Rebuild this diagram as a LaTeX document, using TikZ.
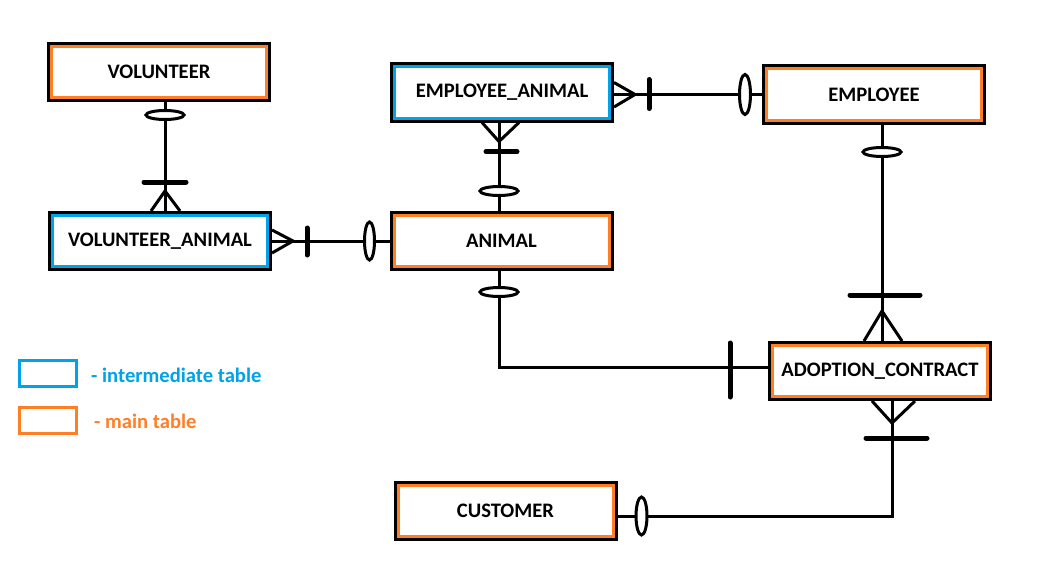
\documentclass[tikz,border=0pt]{standalone}
\usepackage{fontspec}
\setmainfont{Carlito}
\usetikzlibrary{calc}
\definecolor{pblue}{RGB}{0,162,232}
\definecolor{porange}{RGB}{255,127,39}
\tikzset{
  tbl/.style={rectangle, fill=white, draw=#1, line width=3pt,
    preaction={draw=black, line width=9pt},
    minimum width=215pt, minimum height=51pt, inner sep=0pt, outer sep=4.5pt,
    font=\fontsize{20.6}{24}\selectfont\bfseries, text=black},
  conn/.style={draw=black, line width=3pt},
  bar/.style={draw=black, line width=5pt, line cap=round},
  zero/.style={draw=black, line width=3pt, fill=white},
  legbox/.style={rectangle, draw=#1, line width=3pt, minimum width=57pt, minimum height=26pt, inner sep=0pt},
  legtxt/.style={anchor=west, inner sep=0pt, text=#1, font=\fontsize{20.6}{24}\selectfont\bfseries}
}
\begin{document}
\begin{tikzpicture}[x=1pt,y=-1pt]
\useasboundingbox (0,0) rectangle (1052,586);
\fill[white] (0,0) rectangle (1052,586);

% tables
\node[tbl=porange] (vol) at (159,72) {VOLUNTEER};
\node[tbl=pblue]   (ea)  at (502,92.5) {EMPLOYEE\_ANIMAL};
\node[tbl=porange] (emp) at (874,94.5) {EMPLOYEE};
\node[tbl=pblue]   (va)  at (160,241) {VOLUNTEER\_ANIMAL};
\node[tbl=porange] (ani) at (501.5,241) {ANIMAL};
\node[tbl=porange] (ac)  at (880,371) {ADOPTION\_CONTRACT};
\node[tbl=porange] (cus) at (505.5,511) {CUSTOMER};

% C1: VOLUNTEER -- VOLUNTEER_ANIMAL
\coordinate (c1a) at ([xshift=6pt]vol.south);
\coordinate (c1b) at (c1a |- va.north);
\draw[conn] (c1a) -- (c1b);
\draw[zero] ($(c1a)+(0,13)$) ellipse [x radius=19, y radius=4.5];
\draw[bar] ($(c1b)+(-21,-29)$) -- ++(42,0);
\draw[conn] ($(c1b)+(-14,0)$) -- ($(c1b)+(0,-20)$) -- ($(c1b)+(15,0)$);

% C2: VOLUNTEER_ANIMAL -- ANIMAL
\coordinate (c2a) at (va.east);
\coordinate (c2b) at (ani.west);
\draw[conn] (c2a) -- (c2b);
\draw[conn] ($(c2a)+(0,-11)$) -- ($(c2a)+(21,0)$) -- ($(c2a)+(0,12)$);
\draw[bar] ($(c2a)+(35,-13)$) -- ++(0,27);
\draw[zero] ($(c2b)+(-20,0)$) ellipse [x radius=5, y radius=19];

% C3: EMPLOYEE_ANIMAL -- EMPLOYEE
\coordinate (c3b) at (emp.west);
\coordinate (c3a) at (ea.east |- c3b);
\draw[conn] (c3a) -- (c3b);
\draw[conn] ($(c3a)+(0,-12)$) -- ($(c3a)+(21,0)$) -- ($(c3a)+(0,12.5)$);
\draw[bar] ($(c3a)+(35,-15)$) -- ++(0,29);
\draw[zero] ($(c3b)+(-17,0)$) ellipse [x radius=5.5, y radius=20];

% C4: EMPLOYEE_ANIMAL -- ANIMAL
\coordinate (c4a) at ([xshift=-3pt]ea.south);
\coordinate (c4b) at (c4a |- ani.north);
\draw[conn] (c4a) -- (c4b);
\draw[conn] ($(c4a)+(-17,0)$) -- ($(c4a)+(0,19)$) -- ($(c4a)+(20,0)$);
\draw[bar] ($(c4a)+(-13,29)$) -- ++(31,0);
\draw[zero] ($(c4b)+(0,-20)$) ellipse [x radius=19, y radius=4.5];

% C5: ANIMAL -- ADOPTION_CONTRACT
\coordinate (c5a) at ([xshift=-2.5pt]ani.south);
\coordinate (c5b) at ([yshift=4pt]ac.west);
\draw[conn] (c5a) |- (c5b);
\draw[zero] ($(c5a)+(0,21)$) ellipse [x radius=19, y radius=4.5];
\draw[bar] ($(c5b)+(-38,-24)$) -- ++(0,54);

% C6: EMPLOYEE -- ADOPTION_CONTRACT
\coordinate (c6a) at ([xshift=8pt]emp.south);
\coordinate (c6b) at (c6a |- ac.north);
\draw[conn] (c6a) -- (c6b);
\draw[zero] ($(c6a)+(0,27.5)$) ellipse [x radius=19, y radius=4.5];
\draw[bar] ($(c6b)+(-32,-46)$) -- ++(70,0);
\draw[conn] ($(c6b)+(-18,0)$) -- ($(c6b)+(0,-30)$) -- ($(c6b)+(20,0)$);

% C7: ADOPTION_CONTRACT -- CUSTOMER
\coordinate (c7a) at ([xshift=12pt]ac.south);
\coordinate (c7b) at ([yshift=-5pt]cus.east);
\draw[conn] (c7a) |- (c7b);
\draw[conn] ($(c7a)+(-20,0)$) -- ($(c7a)+(0,22)$) -- ($(c7a)+(23,0)$);
\draw[bar] ($(c7a)+(-26,37)$) -- ++(61,0);
\draw[zero] ($(c7b)+(24,0)$) ellipse [x radius=5.5, y radius=19];

% legend
\node[legbox=pblue]   (lg1) at (48,373.5) {};
\node[legbox=porange] (lg2) at (48,420.5) {};
\node[legtxt=pblue]   (lt1) at (91,375) {- intermediate table};
\node[legtxt=porange] (lt2) at (94,421) {- main table};
\end{tikzpicture}
\end{document}
